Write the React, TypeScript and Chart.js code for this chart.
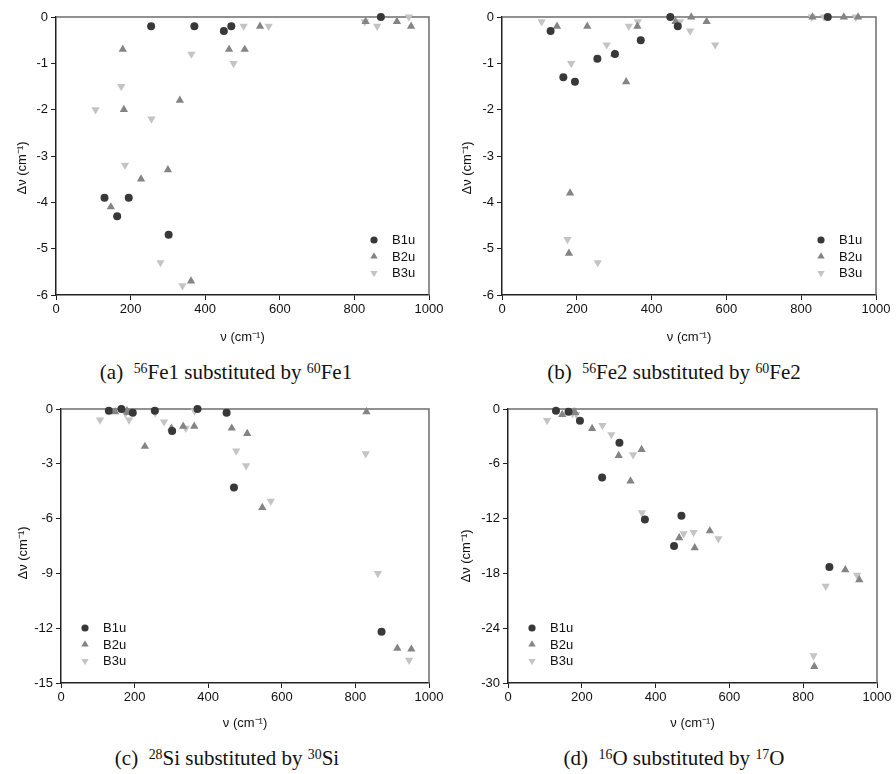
import React, { useEffect, useRef } from 'react';
import { Chart, registerables } from 'chart.js';

Chart.register(...registerables);

// ---------- data ----------
const seriesNames = ['B1u', 'B2u', 'B3u'];

// vibrational frequencies (cm^-1) of each symmetry species
const freqB1u = [130, 164, 195, 255, 302, 371, 450, 470, 871];
const freqB2u = [147, 179, 182, 228, 300, 332, 362, 464, 506, 547, 830, 914, 952];
const freqB3u = [106, 175, 185, 256, 280, 339, 363, 476, 503, 570, 828, 861, 946];

// (a) 56Fe1 -> 60Fe1
const shiftA_B1u = [-3.9, -4.3, -3.9, -0.2, -4.7, -0.2, -0.3, -0.2, 0];
const shiftA_B2u = [-4.1, -0.7, -2.0, -3.5, -3.3, -1.8, -5.7, -0.7, -0.7, -0.2, -0.1, -0.1, -0.2];
const shiftA_B3u = [-2.0, -1.5, -3.2, -2.2, -5.3, -5.8, -0.8, -1.0, -0.2, -0.2, -0.1, -0.2, 0];

// (b) 56Fe2 -> 60Fe2
const shiftB_B1u = [-0.3, -1.3, -1.4, -0.9, -0.8, -0.5, 0, -0.2, 0];
const shiftB_B2u = [-0.2, -5.1, -3.8, -0.2, -0.8, -1.4, -0.2, -0.1, 0, -0.1, 0, 0, 0];
const shiftB_B3u = [-0.1, -4.8, -1.0, -5.3, -0.6, -0.2, -0.1, -0.1, -0.3, -0.6, 0, 0, 0];

// (c) 28Si -> 30Si
const shiftC_B1u = [-0.1, 0, -0.2, -0.1, -1.2, 0, -0.2, -4.3, -12.2];
const shiftC_B2u = [-0.15, -0.1, -0.2, -2.05, -1.05, -0.95, -0.95, -1.05, -1.35, -5.4, -0.15, -13.1, -13.15];
const shiftC_B3u = [-0.6, -0.25, -0.6, -0.2, -0.7, -1.05, -0.1, -2.3, -3.1, -5.05, -2.45, -9.0, -13.75];

// (d) 16O -> 17O
const shiftD_B1u = [-0.2, -0.3, -1.3, -7.5, -3.7, -12.1, -15.0, -11.7, -17.3];
const shiftD_B2u = [-0.6, -0.3, -0.4, -2.15, -5.1, -7.9, -4.45, -14.1, -15.2, -13.35, -28.2, -17.6, -18.7];
const shiftD_B3u = [-1.25, -0.5, -0.6, -1.8, -2.8, -5.0, -11.35, -13.65, -13.5, -14.2, -27.0, -19.4, -18.2];

const xMin = 0;
const xMax = 1000;
const xStep = 200;

const xTitle = 'ν (cm⁻¹)';
const yTitle = 'Δν (cm⁻¹)';

// ---------- styles ----------
const FONT = '"Liberation Sans", Arial, Helvetica, sans-serif';
const COLORS = ['#383838', '#848484', '#c4c4c4'];
const AXIS = '#222222';
const FRAME = '#6e6e6e';

type Panel = {
  key: string;
  left: number;
  top: number;
  width: number;
  height: number;
  area: { l: number; t: number; r: number; b: number };
  xAxisH: number;
  xTickPad: number;
  yMin: number;
  yStep: number;
  yTitleX: number;
  yTitleShift: number;
  legendSide: 'left' | 'right';
  values: number[][];
  caption: { label: string; iso1: string; el1: string; iso2: string; el2: string; cx: number; cy: number };
};

const panels: Panel[] = [
  {
    key: 'a', left: 0, top: 0, width: 446, height: 350,
    area: { l: 56, t: 17, r: 429, b: 295 }, xAxisH: 50, xTickPad: 2,
    yMin: -6, yStep: 1, yTitleX: 22, yTitleShift: 12, legendSide: 'right',
    values: [shiftA_B1u, shiftA_B2u, shiftA_B3u],
    caption: { label: '(a)', iso1: '56', el1: 'Fe1', iso2: '60', el2: 'Fe1', cx: 226, cy: 372 },
  },
  {
    key: 'b', left: 446, top: 0, width: 450, height: 350,
    area: { l: 56, t: 17, r: 430, b: 295 }, xAxisH: 50, xTickPad: 2,
    yMin: -6, yStep: 1, yTitleX: 21, yTitleShift: 12, legendSide: 'right',
    values: [shiftB_B1u, shiftB_B2u, shiftB_B3u],
    caption: { label: '(b)', iso1: '56', el1: 'Fe2', iso2: '60', el2: 'Fe2', cx: 674, cy: 372 },
  },
  {
    key: 'c', left: 0, top: 392, width: 446, height: 350,
    area: { l: 61, t: 17, r: 429, b: 291 }, xAxisH: 48, xTickPad: 1.5,
    yMin: -15, yStep: 3, yTitleX: 23, yTitleShift: 7, legendSide: 'left',
    values: [shiftC_B1u, shiftC_B2u, shiftC_B3u],
    caption: { label: '(c)', iso1: '28', el1: 'Si', iso2: '30', el2: 'Si', cx: 227, cy: 758 },
  },
  {
    key: 'd', left: 446, top: 392, width: 450, height: 350,
    area: { l: 62, t: 17, r: 431, b: 291 }, xAxisH: 48, xTickPad: 1.5,
    yMin: -30, yStep: 6, yTitleX: 20, yTitleShift: 10, legendSide: 'left',
    values: [shiftD_B1u, shiftD_B2u, shiftD_B3u],
    caption: { label: '(d)', iso1: '16', el1: 'O', iso2: '17', el2: 'O', cx: 674, cy: 758 },
  },
];

const freqs = [freqB1u, freqB2u, freqB3u];
const pointStyles: ('circle' | 'triangle')[] = ['circle', 'triangle', 'triangle'];
const rotations = [0, 0, 180];
const radii = [4, 4.8, 4.8];

function drawMarker(ctx: CanvasRenderingContext2D, i: number, x: number, y: number, r: number) {
  ctx.beginPath();
  if (i === 0) {
    ctx.arc(x, y, r, 0, Math.PI * 2);
  } else {
    let rad = (rotations[i] * Math.PI) / 180;
    for (let k = 0; k < 3; k++) {
      const px = x + Math.sin(rad) * r;
      const py = y - Math.cos(rad) * r;
      if (k === 0) ctx.moveTo(px, py);
      else ctx.lineTo(px, py);
      rad += (2 * Math.PI) / 3;
    }
    ctx.closePath();
  }
  ctx.fillStyle = COLORS[i];
  ctx.fill();
}

function PanelChart({ p }: { p: Panel }) {
  const ref = useRef<HTMLCanvasElement | null>(null);

  useEffect(() => {
    if (!ref.current) return;

    const framePlugin = {
      id: 'frame' + p.key,
      beforeDatasetsDraw(chart: any) {
        const { ctx, chartArea: a } = chart;
        ctx.save();
        ctx.strokeStyle = FRAME;
        ctx.lineWidth = 1.5;
        ctx.beginPath();
        ctx.moveTo(a.left, a.top);
        ctx.lineTo(a.right, a.top);
        ctx.lineTo(a.right, a.bottom);
        ctx.stroke();
        ctx.restore();
      },
      afterDraw(chart: any) {
        const { ctx, chartArea: a } = chart;
        // y axis title
        ctx.save();
        ctx.fillStyle = '#111';
        ctx.font = '13px ' + FONT;
        ctx.textAlign = 'center';
        ctx.textBaseline = 'middle';
        ctx.translate(p.yTitleX, (a.top + a.bottom) / 2 + p.yTitleShift);
        ctx.rotate(-Math.PI / 2);
        ctx.fillText(yTitle, 0, 0);
        ctx.restore();

        // legend
        ctx.save();
        const markerX = p.legendSide === 'right' ? a.right - 55 : a.left + 24;
        const textX = markerX + 18;
        const rows = [a.bottom - 55, a.bottom - 38.5, a.bottom - 22];
        ctx.font = '13px ' + FONT;
        ctx.textBaseline = 'middle';
        ctx.textAlign = 'left';
        seriesNames.forEach((name, i) => {
          drawMarker(ctx, i, markerX, rows[i], i === 0 ? 3.6 : 4.2);
          ctx.fillStyle = '#111';
          ctx.fillText(name, textX, rows[i] + 0.5);
        });
        ctx.restore();
      },
    };

    const datasets = seriesNames.map((name, i) => ({
      label: name,
      data: freqs[i].map((x, j) => ({ x, y: p.values[i][j] })),
      pointStyle: pointStyles[i],
      pointRotation: rotations[i],
      pointRadius: radii[i],
      pointHoverRadius: radii[i],
      pointBackgroundColor: COLORS[i],
      backgroundColor: COLORS[i],
      pointBorderWidth: 0,
      borderWidth: 0,
      showLine: false,
      clip: false as any,
    }));

    const chart = new Chart(ref.current, {
      type: 'scatter',
      data: { datasets },
      options: {
        responsive: false,
        animation: false,
        devicePixelRatio: 1,
        events: [],
        layout: {
          padding: {
            left: 0,
            top: p.area.t,
            right: p.width - p.area.r,
            bottom: p.height - p.area.b - p.xAxisH,
          },
        },
        plugins: {
          legend: { display: false },
          tooltip: { enabled: false },
          title: { display: false },
        },
        scales: {
          x: {
            type: 'linear',
            position: 'bottom',
            min: xMin,
            max: xMax,
            ticks: {
              stepSize: xStep,
              color: '#111',
              font: { family: FONT, size: 13 },
              padding: p.xTickPad,
              maxRotation: 0,
              autoSkip: false,
              callback: (v: any) => String(v),
            },
            grid: {
              drawOnChartArea: false,
              drawTicks: true,
              tickLength: 5,
              tickColor: AXIS,
              tickWidth: 1,
              color: AXIS,
            },
            border: { display: true, color: AXIS, width: 1.5 },
            title: {
              display: true,
              text: xTitle,
              color: '#111',
              font: { family: FONT, size: 13 },
              padding: 0,
            },
            afterFit: (s: any) => {
              s.height = p.xAxisH;
            },
          },
          y: {
            type: 'linear',
            min: p.yMin,
            max: 0,
            ticks: {
              stepSize: p.yStep,
              color: '#111',
              font: { family: FONT, size: 13 },
              padding: 3,
              autoSkip: false,
              callback: (v: any) => String(v),
            },
            grid: {
              drawOnChartArea: false,
              drawTicks: true,
              tickLength: 5,
              tickColor: AXIS,
              tickWidth: 1,
              color: AXIS,
            },
            border: { display: true, color: AXIS, width: 1.5 },
            afterFit: (s: any) => {
              s.width = p.area.l;
            },
          },
        },
      },
      plugins: [framePlugin],
    });

    return () => chart.destroy();
  }, [p]);

  return (
    <canvas
      ref={ref}
      width={p.width}
      height={p.height}
      style={{ position: 'absolute', left: p.left, top: p.top, width: p.width, height: p.height }}
    />
  );
}

function Caption({ p }: { p: Panel }) {
  const c = p.caption;
  const supStyle: React.CSSProperties = { fontSize: '0.66em', verticalAlign: 'baseline', position: 'relative', top: '-0.45em' };
  return (
    <div
      style={{
        position: 'absolute',
        left: c.cx - 200,
        top: c.cy - 13,
        width: 400,
        height: 26,
        lineHeight: '26px',
        textAlign: 'center',
        fontFamily: '"Liberation Serif", "Times New Roman", Times, serif',
        fontSize: 21,
        color: '#111',
        whiteSpace: 'nowrap',
      }}
    >
      {c.label}
      {'\u00a0\u00a0'}
      <span style={supStyle}>{c.iso1}</span>
      {c.el1} substituted by <span style={supStyle}>{c.iso2}</span>
      {c.el2}
    </div>
  );
}

export default function App() {
  return (
    <div style={{ position: 'absolute', left: 0, top: 0, width: 896, height: 774, background: '#fff', overflow: 'hidden' }}>
      {panels.map((p) => (
        <PanelChart key={p.key} p={p} />
      ))}
      {panels.map((p) => (
        <Caption key={'c' + p.key} p={p} />
      ))}
    </div>
  );
}
